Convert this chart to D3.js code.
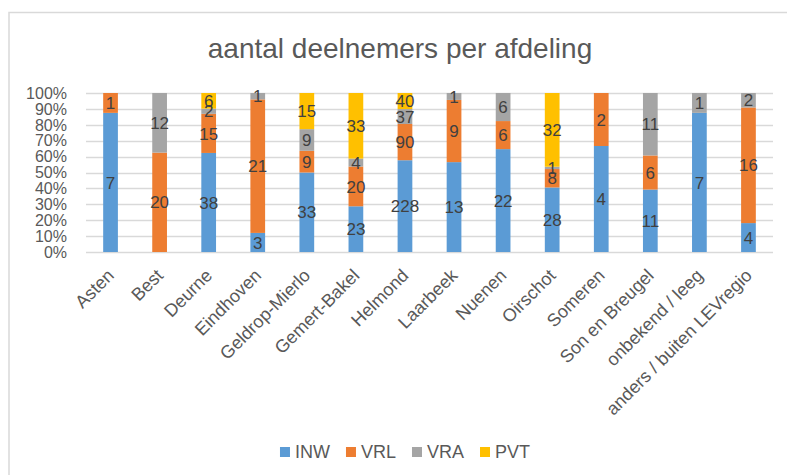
<!DOCTYPE html>
<meta charset="utf-8">
<html>
<head>
<script src="https://cdn.jsdelivr.net/npm/d3@7"></script>
<style>
  body { margin: 0; background: #fff; }
  text { font-family: "Liberation Sans", Arial, sans-serif; }
</style>
</head>
<body>
<div id="chart"></div>
<script>
  // categories (afdelingen) and the four series
  var afdelingen = ["Asten", "Best", "Deurne", "Eindhoven", "Geldrop-Mierlo", "Gemert-Bakel",
    "Helmond", "Laarbeek", "Nuenen", "Oirschot", "Someren", "Son en Breugel",
    "onbekend / leeg", "anders / buiten LEVregio"];
  var inw = [7, 0, 38, 3, 33, 23, 228, 13, 22, 28, 4, 11, 7, 4];
  var vrl = [1, 20, 15, 21, 9, 20, 90, 9, 6, 8, 2, 6, 0, 16];
  var vra = [0, 12, 2, 1, 9, 4, 37, 1, 6, 1, 0, 11, 1, 2];
  var pvt = [0, 0, 6, 0, 15, 33, 40, 0, 0, 32, 0, 0, 0, 0];
  var seriesNames = ["INW", "VRL", "VRA", "PVT"];
  var yTicks = [0, 0.1, 0.2, 0.3, 0.4, 0.5, 0.6, 0.7, 0.8, 0.9, 1];

  var colors = { INW: "#5B9BD5", VRL: "#ED7D31", VRA: "#A5A5A5", PVT: "#FFC000" };

  var width = 787, height = 475;
  var margin = { top: 93, left: 86, right: 14, bottom: 223 };

  var svg = d3.select("#chart").append("svg")
      .attr("width", width)
      .attr("height", height);

  // chart frame
  svg.append("rect")
      .attr("x", 9).attr("y", 12.5)
      .attr("width", 820).attr("height", 520)
      .attr("fill", "none")
      .attr("stroke", "#D9D9D9")
      .attr("stroke-width", 1.5);

  // title
  svg.append("text")
      .attr("x", 400).attr("y", 58)
      .attr("text-anchor", "middle")
      .style("font-size", "28px")
      .style("fill", "#595959")
      .text("aantal deelnemers per afdeling");

  // build rows for the stack
  var rows = afdelingen.map(function (a, i) {
    return { afdeling: a, INW: inw[i], VRL: vrl[i], VRA: vra[i], PVT: pvt[i] };
  });
  var stacked = d3.stack().keys(seriesNames).offset(d3.stackOffsetExpand)(rows);

  var x = d3.scaleBand()
      .domain(afdelingen)
      .range([margin.left, width - margin.right])
      .paddingInner(0.7)
      .paddingOuter(0.35);

  var y = d3.scaleLinear()
      .domain([0, 1])
      .range([height - margin.bottom, margin.top]);

  // gridlines
  svg.append("g").selectAll("line")
      .data(yTicks)
      .enter().append("line")
      .attr("x1", margin.left).attr("x2", width - margin.right)
      .attr("y1", function (d) { return Math.round(y(d)) + 0.5; })
      .attr("y2", function (d) { return Math.round(y(d)) + 0.5; })
      .attr("stroke", "#D9D9D9")
      .attr("stroke-width", 1.5);

  // y axis labels
  svg.append("g").selectAll("text")
      .data(yTicks)
      .enter().append("text")
      .attr("x", 67)
      .attr("y", function (d) { return y(d); })
      .attr("dy", "0.36em")
      .attr("text-anchor", "end")
      .style("font-size", "16px")
      .style("fill", "#595959")
      .text(d3.format(".0%"));

  // stacked bars
  var layer = svg.append("g").selectAll("g")
      .data(stacked)
      .enter().append("g")
      .attr("fill", function (d) { return colors[d.key]; });

  layer.selectAll("rect")
      .data(function (d) { return d; })
      .enter().append("rect")
      .attr("x", function (d) { return x(d.data.afdeling); })
      .attr("width", x.bandwidth())
      .attr("y", function (d) { return y(d[1]); })
      .attr("height", function (d) { return y(d[0]) - y(d[1]); });

  // data labels in the middle of each segment
  var labels = svg.append("g");
  stacked.forEach(function (s) {
    s.forEach(function (d) {
      var v = d.data[s.key];
      if (!v) return;
      labels.append("text")
          .attr("x", x(d.data.afdeling) + x.bandwidth() / 2)
          .attr("y", y((d[0] + d[1]) / 2))
          .attr("dy", "0.36em")
          .attr("text-anchor", "middle")
          .style("font-size", "17px")
          .style("fill", "#404040")
          .text(v);
    });
  });

  // x axis labels, rotated
  svg.append("g").selectAll("text")
      .data(afdelingen)
      .enter().append("text")
      .attr("transform", function (d) {
        return "translate(" + (x(d) + x.bandwidth() / 2) + "," + (height - margin.bottom + 20) + ") rotate(-45)";
      })
      .attr("text-anchor", "end")
      .attr("dy", "0.36em")
      .style("font-size", "18px")
      .style("fill", "#595959")
      .text(function (d) { return d; });

  // legend
  var legend = svg.append("g");
  var lx = 0;
  seriesNames.forEach(function (name) {
    var item = legend.append("g").attr("transform", "translate(" + lx + ",0)");
    item.append("rect")
        .attr("x", 0).attr("y", -5)
        .attr("width", 10).attr("height", 10)
        .attr("fill", colors[name]);
    var t = item.append("text")
        .attr("x", 15).attr("y", 0)
        .attr("dy", "0.36em")
        .style("font-size", "18px")
        .style("fill", "#595959")
        .text(name);
    lx += 15 + t.node().getComputedTextLength() + 16;
  });
  var legendWidth = lx - 16;
  legend.attr("transform", "translate(" + (405 - legendWidth / 2) + ",452)");
</script>
</body>
</html>
